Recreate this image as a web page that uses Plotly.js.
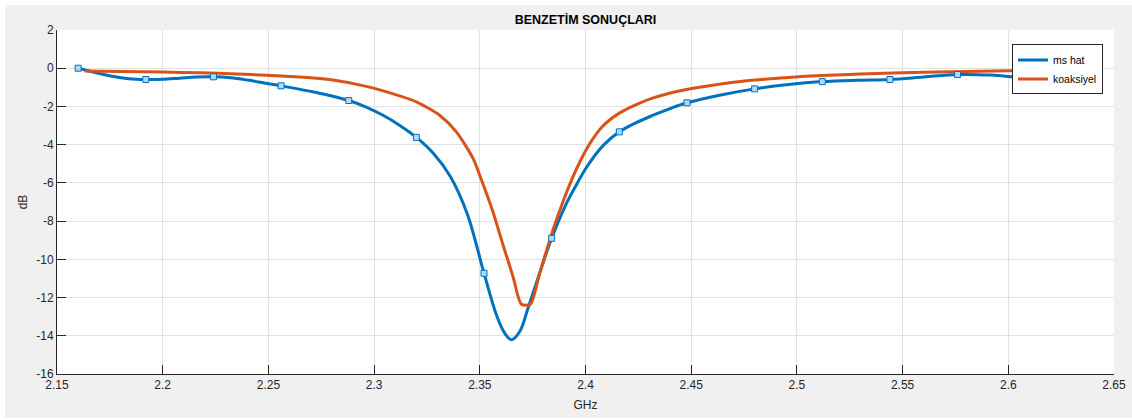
<!DOCTYPE html>
<html>
<head>
<meta charset="utf-8">
<script src="https://cdn.plot.ly/plotly-3.0.1.min.js"></script>
<style>
html, body { margin: 0; padding: 0; background: #ffffff; }
#chart { position: absolute; left: 5px; top: 5px; width: 1127px; height: 413px; }
</style>
</head>
<body>
<div id="chart"></div>
<script>
// ms hat (blue) curve readings
const msHatFreq = [2.160, 2.168, 2.176, 2.184, 2.192, 2.200, 2.208, 2.216, 2.224, 2.232, 2.240, 2.248, 2.256, 2.264, 2.272, 2.280, 2.288, 2.296, 2.304, 2.312, 2.320, 2.328, 2.336, 2.344, 2.352, 2.358, 2.362, 2.365, 2.3689, 2.3728, 2.3783, 2.384, 2.391, 2.3965, 2.4005, 2.4083, 2.416, 2.424, 2.432, 2.440, 2.448, 2.464, 2.480, 2.496, 2.512, 2.528, 2.544, 2.560, 2.576, 2.592, 2.608, 2.624, 2.640];
const msHatDb   = [0.00, -0.22, -0.42, -0.55, -0.59, -0.58, -0.52, -0.46, -0.45, -0.50, -0.62, -0.77, -0.92, -1.08, -1.26, -1.45, -1.69, -2.02, -2.45, -2.98, -3.62, -4.45, -5.65, -7.60, -10.73, -12.95, -13.90, -14.21, -13.78, -12.56, -10.73, -8.90, -7.07, -5.94, -5.18, -4.05, -3.33, -2.85, -2.46, -2.11, -1.81, -1.40, -1.08, -0.85, -0.70, -0.63, -0.59, -0.46, -0.33, -0.36, -0.49, -0.35, 0.00];

// marker positions on the ms hat curve
const markerFreq = [2.160, 2.192, 2.224, 2.256, 2.288, 2.320, 2.352, 2.384, 2.416, 2.448, 2.480, 2.512, 2.544, 2.576, 2.608, 2.640];
const markerDb   = [0.00, -0.59, -0.45, -0.92, -1.69, -3.62, -10.73, -8.90, -3.33, -1.81, -1.08, -0.70, -0.59, -0.33, -0.49, 0.00];

// koaksiyel (orange) curve readings
const koaksiyelFreq = [2.163, 2.180, 2.200, 2.2174, 2.235, 2.249, 2.2648, 2.2805, 2.2963, 2.3121, 2.320, 2.331, 2.3389, 2.3468, 2.3508, 2.3562, 2.361, 2.3657, 2.3697, 2.3739, 2.3783, 2.3846, 2.3893, 2.394, 2.398, 2.402, 2.408, 2.416, 2.424, 2.432, 2.446, 2.464, 2.480, 2.496, 2.512, 2.530, 2.560, 2.600, 2.640];
const koaksiyelDb   = [-0.14, -0.17, -0.20, -0.24, -0.30, -0.37, -0.46, -0.62, -0.95, -1.45, -1.76, -2.46, -3.33, -4.72, -5.85, -7.51, -9.25, -10.90, -12.35, -12.35, -10.73, -8.46, -7.00, -5.70, -4.75, -3.95, -3.05, -2.35, -1.90, -1.55, -1.15, -0.82, -0.62, -0.48, -0.38, -0.30, -0.21, -0.13, -0.10];

const xTickVals = [2.15, 2.2, 2.25, 2.3, 2.35, 2.4, 2.45, 2.5, 2.55, 2.6, 2.65];
const xTickText = ['2.15', '2.2', '2.25', '2.3', '2.35', '2.4', '2.45', '2.5', '2.55', '2.6', '2.65'];
const yTickVals = [-16, -14, -12, -10, -8, -6, -4, -2, 0, 2];
const yTickText = ['-16', '-14', '-12', '-10', '-8', '-6', '-4', '-2', '0', '2'];

const FONT = 'Liberation Sans, Arial, Helvetica, sans-serif';
const AX = '#262626';

const traces = [
  {
    x: msHatFreq, y: msHatDb, name: 'ms hat', type: 'scatter', mode: 'lines',
    line: { color: '#0072BD', width: 3, shape: 'spline', smoothing: 1 }
  },
  {
    x: koaksiyelFreq, y: koaksiyelDb, name: 'koaksiyel', type: 'scatter', mode: 'lines',
    line: { color: '#D95319', width: 3, shape: 'spline', smoothing: 0.7 }
  },
  {
    x: markerFreq, y: markerDb, name: 'ms hat markers', type: 'scatter', mode: 'markers',
    showlegend: false, hoverinfo: 'skip',
    marker: { symbol: 'square', size: 6, color: '#b3d8f3', line: { color: '#0072BD', width: 1 } }
  }
];

const layout = {
  width: 1127, height: 413,
  paper_bgcolor: '#f0f0f0', plot_bgcolor: '#ffffff',
  margin: { l: 52, r: 18, t: 25, b: 44 },
  font: { family: FONT, size: 12, color: AX },
  title: {
    text: 'BENZETİM SONUÇLARI',
    font: { family: FONT, size: 12.5, color: '#000000', weight: 'bold' },
    x: 0.5, xref: 'paper', xanchor: 'center',
    y: 1 - 15 / 413, yref: 'container', yanchor: 'middle'
  },
  xaxis: {
    range: [2.15, 2.65], tickmode: 'array', tickvals: xTickVals, ticktext: xTickText,
    showgrid: true, gridcolor: '#e1e1e1', gridwidth: 1, zeroline: false,
    showline: true, linecolor: AX, linewidth: 1, mirror: false,
    ticks: 'inside', ticklen: 9, tickcolor: AX, tickwidth: 1,
    tickfont: { family: FONT, size: 12, color: AX },
    title: { text: 'GHz', font: { family: FONT, size: 12, color: AX }, standoff: 9 },
    automargin: false
  },
  yaxis: {
    range: [-16, 2], tickmode: 'array', tickvals: yTickVals, ticktext: yTickText,
    showgrid: true, gridcolor: '#e1e1e1', gridwidth: 1, zeroline: false,
    showline: true, linecolor: AX, linewidth: 1, mirror: false,
    ticks: 'inside', ticklen: 9, tickcolor: AX, tickwidth: 1,
    tickfont: { family: FONT, size: 12, color: AX },
    title: { text: 'dB', font: { family: FONT, size: 12, color: AX }, standoff: 6 },
    automargin: false
  },
  showlegend: true,
  legend: {
    x: 0.9896, xanchor: 'right', y: 0.958, yanchor: 'top',
    bgcolor: '#ffffff', bordercolor: AX, borderwidth: 1,
    font: { family: FONT, size: 10.5, color: '#000000' },
    itemwidth: 30, tracegroupgap: 0
  }
};

Plotly.newPlot('chart', traces, layout, { displayModeBar: false, staticPlot: true });
</script>
</body>
</html>
